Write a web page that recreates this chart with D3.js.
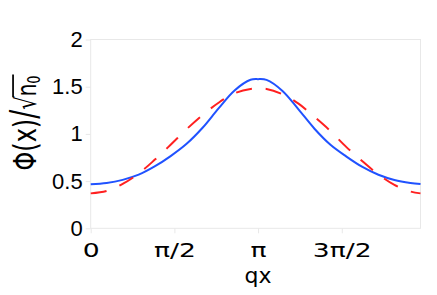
<!DOCTYPE html>
<html>
<head>
<meta charset="utf-8">
<script src="https://cdn.jsdelivr.net/npm/d3@7"></script>
<style>
  body { margin: 0; background: #fff; }
  svg { display: block; }
</style>
</head>
<body>
<svg id="chart" width="437" height="295"></svg>
<script>
// values
const qx = [0, 0.3, 0.6, 0.9, 1.2, 1.5, 1.8, 2.1, 2.4, 2.7, 3.0, 3.14, 3.3, 3.6, 3.9, 4.2, 4.5, 4.8, 5.1, 5.4, 5.7, 6.0, 6.19];
const phiSolid = [0.466, 0.48, 0.513, 0.568, 0.655, 0.765, 0.895, 1.065, 1.27, 1.46, 1.573, 1.58, 1.572, 1.455, 1.26, 1.055, 0.885, 0.76, 0.65, 0.567, 0.512, 0.48, 0.468];
const phiDashed = [0.37, 0.395, 0.47, 0.58, 0.725, 0.885, 1.05, 1.20, 1.33, 1.43, 1.476, 1.48, 1.476, 1.42, 1.32, 1.18, 1.03, 0.86, 0.71, 0.57, 0.46, 0.39, 0.37];
const xTicks = [0, Math.PI / 2, Math.PI, 3 * Math.PI / 2];
const xTickLabels = ['0', 'π/2', 'π', '3π/2'];
const yTicks = [0, 0.5, 1, 1.5, 2];
const yTickLabels = ['0', '0.5', '1', '1.5', '2'];

const svg = d3.select('#chart');
const margin = { top: 39.5, right: 16.5, bottom: 66.7, left: 90.7 };
const width = +svg.attr('width');
const height = +svg.attr('height');

const x = d3.scaleLinear().domain([0, 6.19]).range([margin.left, width - margin.right]);
const y = d3.scaleLinear().domain([0, 2]).range([height - margin.bottom, margin.top]);

const frameColor = '#e8e8e8';

// frame
svg.append('rect')
    .attr('x', x(0)).attr('y', y(2))
    .attr('width', x(6.19) - x(0)).attr('height', y(0) - y(2))
    .attr('fill', 'none').attr('stroke', frameColor).attr('stroke-width', 1);

// axes
const xAxis = d3.axisBottom(x).tickValues(xTicks).tickFormat((d, i) => xTickLabels[i]).tickSize(5).tickPadding(10);
const yAxis = d3.axisLeft(y).tickValues(yTicks).tickFormat((d, i) => yTickLabels[i]).tickSize(5).tickPadding(3);

const gx = svg.append('g').attr('transform', `translate(0,${y(0)})`).call(xAxis);
gx.select('.domain').remove();
gx.selectAll('line').attr('stroke', frameColor);
gx.selectAll('text')
    .attr('font-family', 'DejaVu Sans').attr('font-size', 19).attr('fill', '#000')
    .attr('transform', 'scale(1.4,1)');

const gy = svg.append('g').attr('transform', `translate(${x(0)},0)`).call(yAxis);
gy.select('.domain').remove();
gy.selectAll('line').attr('stroke', frameColor);
gy.selectAll('text').attr('font-family', 'Liberation Sans').attr('font-size', 22).attr('fill', '#000');

// axis titles
svg.append('text')
    .attr('x', x(Math.PI)).attr('y', 283)
    .attr('text-anchor', 'middle')
    .attr('font-family', 'DejaVu Sans').attr('font-size', 22)
    .text('qx');

const yg = svg.append('g').attr('transform', 'translate(36,123) rotate(-90) scale(1,1.35)');
const yt = yg.append('text')
    .attr('font-family', 'DejaVu Sans').attr('font-size', 24);
yt.append('tspan').text('Φ(x)');
yt.append('tspan').attr('font-size', 27).text('/');
yt.append('tspan').attr('font-size', 21).text('√');
yt.append('tspan').attr('font-size', 20).text('n');
yt.append('tspan').attr('font-size', 13).attr('dy', 3).text('0');
const total = yt.node().getComputedTextLength();
yt.attr('x', -total / 2);
// bar of the square root over n0
const nStart = yt.node().getSubStringLength(0, 6);
yg.append('line')
    .attr('x1', -total / 2 + nStart - 1).attr('x2', total / 2 + 1)
    .attr('y1', -17).attr('y2', -17)
    .attr('stroke', '#000').attr('stroke-width', 1.3);

// curves
const solidPts = qx.map((d, i) => [d, phiSolid[i]]);
const dashedPts = qx.map((d, i) => [d, phiDashed[i]]);
const line = d3.line().x(d => x(d[0])).y(d => y(d[1])).curve(d3.curveCatmullRom);

svg.append('path')
    .attr('d', line(solidPts))
    .attr('fill', 'none').attr('stroke', '#2052ff').attr('stroke-width', 2);

svg.append('path')
    .attr('d', line(dashedPts))
    .attr('fill', 'none').attr('stroke', '#ff2020').attr('stroke-width', 2)
    .attr('stroke-dasharray', '16,14');
</script>
</body>
</html>
